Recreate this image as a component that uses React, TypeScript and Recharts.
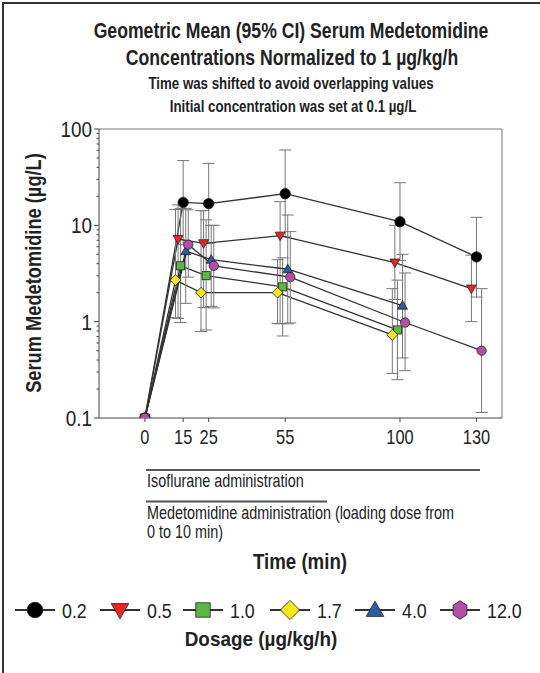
import React from 'react';
import { LineChart, Line, XAxis, YAxis, ErrorBar, ReferenceLine } from 'recharts';

// values (time in min, concentration in µg/L)
const black_t = [0, 15, 25, 55, 100, 130];
const black_v = [0.1, 17.3, 16.8, 21.3, 10.9, 4.7];
const black_lo = [0.1, 6.3, 6.5, 7.6, 4.3, 1.8];
const black_hi = [0.1, 47, 44, 60.5, 27.7, 12.1];

const red_t = [0, 13, 23, 53, 98, 128];
const red_v = [0.1, 7.2, 6.5, 7.8, 4.1, 2.2];
const red_lo = [0.1, 1.08, 1.4, 0.95, 1.7, 1.0];
const red_hi = [0.1, 16.3, 14.2, 17.6, 10.0, 4.9];

const green_t = [0, 14, 24, 54, 99];
const green_v = [0.1, 3.8, 3.0, 2.3, 0.82];
const green_lo = [0.1, 0.98, 0.82, 0.71, 0.25];
const green_hi = [0.1, 15, 11.4, 4.6, 2.7];

const yellow_t = [0, 12, 22, 52, 97];
const yellow_v = [0.1, 2.7, 2.0, 2.0, 0.73];
const yellow_lo = [0.1, 1.1, 0.79, 0.96, 0.29];
const yellow_hi = [0.1, 14.6, 14.2, 4.4, 2.2];

const blue_t = [0, 16, 26, 56, 101];
const blue_v = [0.1, 5.4, 4.4, 3.5, 1.47];
const blue_lo = [0.1, 1.55, 1.44, 0.95, 0.42];
const blue_hi = [0.1, 15, 10, 12.8, 5.0];

const magenta_t = [0, 17, 27, 57, 102, 132];
const magenta_v = [0.1, 6.3, 3.8, 2.9, 0.98, 0.5];
const magenta_lo = [0.1, 2.9, 1.39, 0.97, 0.31, 0.114];
const magenta_hi = [0.1, 14.5, 10, 8.6, 3.2, 2.2];

const xTicks = [0, 15, 25, 55, 100, 130];
const yMajor = [0.1, 1, 10, 100];
const yMinor = [0.2, 0.3, 0.4, 0.5, 0.6, 0.7, 0.8, 0.9, 2, 3, 4, 5, 6, 7, 8, 9, 20, 30, 40, 50, 60, 70, 80, 90];

const FONT = "'Liberation Sans', Arial, sans-serif";

type Shape = 'circle' | 'down' | 'square' | 'diamond' | 'up' | 'hex';

const build = (t: number[], v: number[], lo: number[], hi: number[]) =>
  t.map((time, i) => ({
    t: time,
    v: v[i],
    err: i === 0 ? undefined : [v[i] - lo[i], hi[i] - v[i]],
  }));

const series = [
  { name: '0.2', color: '#000000', shape: 'circle' as Shape, data: build(black_t, black_v, black_lo, black_hi) },
  { name: '0.5', color: '#e8262a', shape: 'down' as Shape, data: build(red_t, red_v, red_lo, red_hi) },
  { name: '1.0', color: '#5cb843', shape: 'square' as Shape, data: build(green_t, green_v, green_lo, green_hi) },
  { name: '1.7', color: '#f5e61e', shape: 'diamond' as Shape, data: build(yellow_t, yellow_v, yellow_lo, yellow_hi) },
  { name: '4.0', color: '#2f5aa8', shape: 'up' as Shape, data: build(blue_t, blue_v, blue_lo, blue_hi) },
  { name: '12.0', color: '#b34fa6', shape: 'hex' as Shape, data: build(magenta_t, magenta_v, magenta_lo, magenta_hi) },
];

// condensed text (no narrow font installed, so squeeze horizontally)
const CText = ({ x, y, sx = 0.82, size = 16, bold = false, anchor = 'start', rotate = false, children }: any) => (
  <text
    transform={`translate(${x},${y})${rotate ? ' rotate(-90)' : ''} scale(${sx},1)`}
    textAnchor={anchor}
    dy="0.36em"
    fontSize={size}
    fontWeight={bold ? 'bold' : 'normal'}
    fontFamily={FONT}
    fill="#222"
  >
    {children}
  </text>
);

const Marker = ({ cx, cy, shape, color, s, hexAsCircle }: any) => {
  const st = { fill: color, stroke: '#222', strokeWidth: 0.8 };
  switch (shape) {
    case 'circle':
      return <circle cx={cx} cy={cy} r={s * 0.52} {...st} />;
    case 'down':
      return <polygon points={`${cx - s * 0.55},${cy - s * 0.4} ${cx + s * 0.55},${cy - s * 0.4} ${cx},${cy + s * 0.55}`} {...st} />;
    case 'up':
      return <polygon points={`${cx - s * 0.55},${cy + s * 0.4} ${cx + s * 0.55},${cy + s * 0.4} ${cx},${cy - s * 0.55}`} {...st} />;
    case 'square':
      return <rect x={cx - s * 0.45} y={cy - s * 0.45} width={s * 0.9} height={s * 0.9} {...st} />;
    case 'diamond':
      return <polygon points={`${cx},${cy - s * 0.6} ${cx + s * 0.6},${cy} ${cx},${cy + s * 0.6} ${cx - s * 0.6},${cy}`} {...st} />;
    case 'hex': {
      if (hexAsCircle) return <circle cx={cx} cy={cy} r={s * 0.52} {...st} />;
      const pts = [0, 1, 2, 3, 4, 5]
        .map((k) => {
          const a = (Math.PI / 3) * k - Math.PI / 2;
          return `${cx + s * 0.5 * Math.cos(a)},${cy + s * 0.58 * Math.sin(a)}`;
        })
        .join(' ');
      return <polygon points={pts} {...st} />;
    }
  }
  return null;
};

const YTick = (props: any) => {
  const { x, y, payload } = props;
  const major = yMajor.includes(payload.value);
  return (
    <g>
      <line x1={x} x2={x - (major ? 5 : 2.5)} y1={y} y2={y} stroke="#444" strokeWidth={1} />
      {major && (
        <CText x={x - 7} y={y} size={22} sx={0.86} anchor="end">
          {payload.value}
        </CText>
      )}
    </g>
  );
};

const XTick = (props: any) => {
  const { x, y, payload } = props;
  return (
    <CText x={x} y={y + 15} size={20} sx={0.82} anchor="middle">
      {payload.value}
    </CText>
  );
};

const legendX = [35, 120, 203, 290, 375, 460];

const App: React.FC = () => {
  return (
    <div style={{ position: 'absolute', left: 0, top: 0, width: 540, height: 673, background: '#fff' }}>
      <div style={{ position: 'absolute', left: 0, top: 0 }}>
        <LineChart width={540} height={448} margin={{ top: 129, right: 38, left: 0, bottom: 0 }}>
          <XAxis
            dataKey="t"
            type="number"
            domain={[-18, 140]}
            ticks={xTicks}
            interval={0}
            allowDataOverflow
            tickSize={4}
            tickMargin={0}
            stroke="#444"
            tick={<XTick />}
            height={30}
          />
          <YAxis
            type="number"
            scale="log"
            domain={[0.1, 100]}
            ticks={[...yMajor, ...yMinor]}
            interval={0}
            allowDataOverflow
            tickSize={0}
            tickMargin={0}
            tickLine={false}
            stroke="#444"
            tick={<YTick />}
            width={99}
          />
          <ReferenceLine y={100} stroke="#777" strokeWidth={1} />
          <ReferenceLine x={140} stroke="#777" strokeWidth={1} />
          {series.map((s) => (
            <Line
              key={s.name}
              data={s.data}
              dataKey="v"
              type="linear"
              stroke="#333"
              strokeWidth={1.3}
              isAnimationActive={false}
              activeDot={false}
              dot={(p: any) => (
                <Marker key={`${s.name}-${p.index}`} cx={p.cx} cy={p.cy} shape={s.shape} color={s.color} s={s.shape === 'circle' ? 10 : 9} hexAsCircle />
              )}
            >
              <ErrorBar dataKey="err" direction="y" width={6} stroke="#777" strokeWidth={1} />
            </Line>
          ))}
        </LineChart>
      </div>

      <svg style={{ position: 'absolute', left: 0, top: 0, pointerEvents: 'none' }} width={540} height={673}>
        <line x1={2} x2={540} y1={3} y2={3} stroke="#333" strokeWidth={2} />
        <line x1={3} x2={3} y1={2} y2={673} stroke="#333" strokeWidth={2} />

        <CText x={291} y={30} size={21.5} sx={0.82} bold anchor="middle">Geometric Mean (95% CI) Serum Medetomidine</CText>
        <CText x={292} y={57.5} size={21.5} sx={0.82} bold anchor="middle">Concentrations Normalized to 1 µg/kg/h</CText>
        <CText x={291} y={83.5} size={16} sx={0.83} bold anchor="middle">Time was shifted to avoid overlapping values</CText>
        <CText x={293} y={106} size={16} sx={0.83} bold anchor="middle">Initial concentration was set at 0.1 µg/L</CText>

        <CText x={33} y={273} size={22} sx={0.83} bold anchor="middle" rotate>Serum Medetomidine (µg/L)</CText>

        <line x1={146} x2={480} y1={470} y2={470} stroke="#555" strokeWidth={2} />
        <CText x={147} y={481} size={18} sx={0.8}>Isoflurane administration</CText>
        <line x1={146} x2={327} y1={501.5} y2={501.5} stroke="#555" strokeWidth={2} />
        <CText x={147} y={513} size={18} sx={0.8}>Medetomidine administration (loading dose from</CText>
        <CText x={147} y={532} size={18} sx={0.8}>0 to 10 min)</CText>

        <CText x={300} y={561} size={22} sx={0.85} bold anchor="middle">Time (min)</CText>

        {series.map((s, i) => {
          const cx = legendX[i];
          return (
            <g key={s.name}>
              <line x1={cx - 20} x2={cx + 20} y1={610} y2={610} stroke="#333" strokeWidth={2} />
              <Marker cx={cx} cy={610} shape={s.shape} color={s.color} s={s.shape === 'circle' ? 15 : 16} />
              <CText x={cx + 27} y={610} size={21} sx={0.85}>{s.name}</CText>
            </g>
          );
        })}

        <CText x={261} y={638} size={21} sx={0.9} bold anchor="middle">Dosage (µg/kg/h)</CText>
      </svg>
    </div>
  );
};

export default App;
